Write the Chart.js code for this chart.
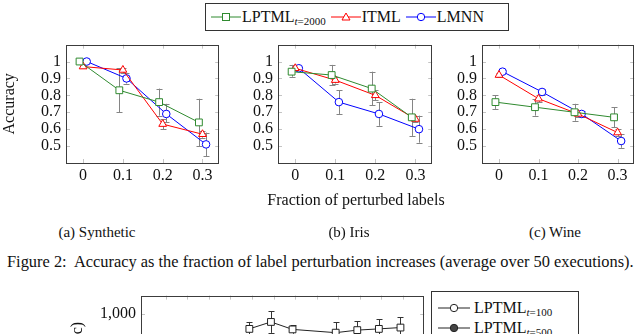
<!DOCTYPE html>
<html>
<head>
<meta charset="utf-8">
<script src="https://cdn.jsdelivr.net/npm/chart.js@4.4.1/dist/chart.umd.min.js"></script>
<style>
  html, body { margin:0; padding:0; background:#fff; width:640px; height:334px; overflow:hidden; }
  body { position:relative; font-family:"Liberation Serif","Times New Roman","DejaVu Serif",serif; color:#111; }
  canvas { position:absolute; }
  .txt { position:absolute; white-space:nowrap; line-height:1; }
  .lg { position:absolute; border:1px solid #333; font-size:16px; background:#fff; }
  .lg .it { display:flex; align-items:center; }
  .lg sub { font-size:11px; vertical-align:-3px; line-height:0; }
</style>
</head>
<body>
<div class="lg" id="legend" style="left:205px;top:3px;width:302px;height:26px;display:flex;align-items:center;">
  <div class="it" style="margin-left:4px"><svg width="32" height="12"><line x1="1" y1="6" x2="31" y2="6" stroke="#2f8a2f"/><rect x="12.5" y="2.5" width="7" height="7" fill="#fff" stroke="#2f8a2f"/></svg><span>LPTML<sub><i>t</i>=2000</sub></span></div>
  <div class="it" style="margin-left:4px"><svg width="32" height="12"><line x1="1" y1="6" x2="31" y2="6" stroke="#f00"/><polygon points="16,2 20,9 12,9" fill="#fff" stroke="#f00"/></svg><span>ITML</span></div>
  <div class="it" style="margin-left:4px"><svg width="32" height="12"><line x1="1" y1="6" x2="31" y2="6" stroke="#00f"/><circle cx="16" cy="6" r="3.7" fill="#fff" stroke="#00f"/></svg><span>LMNN</span></div>
</div>

<canvas id="c1" width="225" height="160" style="left:0;top:30px"></canvas>
<canvas id="c2" width="226" height="160" style="left:212px;top:30px"></canvas>
<canvas id="c3" width="224" height="160" style="left:416px;top:30px"></canvas>
<canvas id="c4" width="370" height="150" style="left:60px;top:281px"></canvas>

<div class="txt" style="left:356px;top:192px;font-size:16px;transform:translateX(-50%)">Fraction of perturbed labels</div>
<div class="txt" style="left:97px;top:225px;font-size:15px;transform:translateX(-50%)">(a) Synthetic</div>
<div class="txt" style="left:349px;top:225px;font-size:15px;transform:translateX(-50%)">(b) Iris</div>
<div class="txt" style="left:555px;top:225px;font-size:15px;transform:translateX(-50%)">(c) Wine</div>
<div class="txt" style="left:7px;top:254px;font-size:16.4px">Figure 2:&nbsp; Accuracy as the fraction of label perturbation increases (average over 50 executions).</div>

<div class="lg" style="left:431px;top:291px;width:146px;height:60px;">
  <div class="it" style="position:absolute;left:4px;top:7px"><svg width="36" height="12"><line x1="2" y1="6" x2="34" y2="6" stroke="#222"/><circle cx="18" cy="6" r="3.7" fill="#fff" stroke="#222"/></svg><span style="margin-left:2px">LPTML<sub><i>t</i>=100</sub></span></div>
  <div class="it" style="position:absolute;left:4px;top:27px"><svg width="36" height="12"><line x1="2" y1="6" x2="34" y2="6" stroke="#222"/><circle cx="18" cy="6" r="3.7" fill="#444" stroke="#222"/></svg><span style="margin-left:2px">LPTML<sub><i>t</i>=500</sub></span></div>
</div>

<script>
// 横軸（ラベル摂動の割合）
var fractions = [0, 0.1, 0.2, 0.3];
var yTicks = [0.5, 0.6, 0.7, 0.8, 0.9, 1];

// Synthetic
var synLptml   = [1.00, 0.83, 0.76, 0.64];
var synLptmlLo = [0.99, 0.70, 0.68, 0.50];
var synLptmlHi = [1.00, 0.96, 0.84, 0.78];
var synItml    = [0.97, 0.95, 0.63, 0.57];
var synItmlLo  = [0.96, 0.93, 0.60, 0.55];
var synItmlHi  = [0.98, 0.96, 0.66, 0.59];
var synLmnn    = [1.00, 0.90, 0.69, 0.51];
var synLmnnLo  = [1.00, 0.87, 0.64, 0.44];
var synLmnnHi  = [1.00, 0.93, 0.75, 0.58];

// Iris
var irisLptml   = [0.94, 0.92, 0.84, 0.67];
var irisLptmlLo = [0.91, 0.86, 0.74, 0.56];
var irisLptmlHi = [0.98, 0.98, 0.94, 0.78];
var irisItml    = [0.96, 0.89, 0.80, 0.66];
var irisItmlLo  = [0.95, 0.87, 0.77, 0.64];
var irisItmlHi  = [0.97, 0.91, 0.83, 0.68];
var irisLmnn    = [0.96, 0.76, 0.69, 0.60];
var irisLmnnLo  = [0.95, 0.69, 0.62, 0.52];
var irisLmnnHi  = [0.97, 0.83, 0.76, 0.68];

// Wine
var wineLptml   = [0.76, 0.73, 0.70, 0.67];
var wineLptmlLo = [0.72, 0.68, 0.65, 0.61];
var wineLptmlHi = [0.80, 0.78, 0.75, 0.73];
var wineItml    = [0.92, 0.78, 0.69, 0.58];
var wineItmlLo  = [0.91, 0.76, 0.67, 0.56];
var wineItmlHi  = [0.93, 0.80, 0.71, 0.60];
var wineLmnn    = [0.94, 0.82, 0.69, 0.53];
var wineLmnnLo  = [0.93, 0.80, 0.67, 0.49];
var wineLmnnHi  = [0.95, 0.84, 0.71, 0.57];

// 下の図（見えている部分のみ）
var nextX     = [1, 2, 3, 4, 5, 6, 7, 8, 9, 10, 11, 12];
var nextYTick = [1000];
var nextPos   = [5, 6, 7, 9, 10, 11, 12];
var nextVal   = [857, 925, 852, 820, 845, 857, 870];
var nextHi    = [925, 1032, 895, 920, 932, 950, 970];
var nextLo    = [790, 818, 809, 720, 758, 764, 770];

var GREEN = '#2f8a2f', RED = '#ff0000', BLUE = '#0000ff';
var FONT = '"Liberation Serif","Times New Roman","DejaVu Serif",serif';

//系列ごとの横ずらし（重なり防止）
function pts(xs, vals, shift) {
	return vals.map(function (v, i) { return {x: xs[i] + shift, y: v}; });
}

function series(xs, vals, lo, hi, color, style, radius, shift) {
	return {
		data: pts(xs, vals, shift),
		errLo: lo, errHi: hi,
		borderColor: color, borderWidth: 1,
		pointStyle: style, pointRadius: radius, pointHoverRadius: radius,
		pointBackgroundColor: '#fff', pointBorderColor: color, pointBorderWidth: 1,
		tension: 0, fill: false
	};
}

//誤差棒（灰色）
var errorBars = {
	id: 'errorBars',
	beforeDatasetsDraw: function (chart) {
		var ctx = chart.ctx, xs = chart.scales.x, ys = chart.scales.y;
		ctx.save();
		ctx.lineWidth = 1;
		chart.data.datasets.forEach(function (ds) {
			ctx.strokeStyle = ds.errColor || '#858585';
			ds.data.forEach(function (p, i) {
				var x = Math.round(xs.getPixelForValue(p.x)) + 0.5;
				var y1 = ys.getPixelForValue(ds.errLo[i]);
				var y2 = ys.getPixelForValue(ds.errHi[i]);
				ctx.beginPath();
				ctx.moveTo(x, y1); ctx.lineTo(x, y2);
				ctx.moveTo(x - 3, Math.round(y1) + 0.5); ctx.lineTo(x + 3, Math.round(y1) + 0.5);
				ctx.moveTo(x - 3, Math.round(y2) + 0.5); ctx.lineTo(x + 3, Math.round(y2) + 0.5);
				ctx.stroke();
			});
		});
		ctx.restore();
	}
};

//枠と内向きの目盛り
var frame = {
	id: 'frame',
	beforeDatasetsDraw: function (chart) {
		var ctx = chart.ctx, a = chart.chartArea, xs = chart.scales.x, ys = chart.scales.y;
		ctx.save();
		ctx.strokeStyle = '#c4c4c4';
		ctx.lineWidth = 1;
		ctx.beginPath();
		xs.ticks.forEach(function (t) {
			var x = Math.round(xs.getPixelForValue(t.value)) + 0.5;
			ctx.moveTo(x, a.top); ctx.lineTo(x, a.top + 4);
			ctx.moveTo(x, a.bottom); ctx.lineTo(x, a.bottom - 4);
		});
		ys.ticks.forEach(function (t) {
			var y = Math.round(ys.getPixelForValue(t.value)) + 0.5;
			ctx.moveTo(a.left, y); ctx.lineTo(a.left + 4, y);
			ctx.moveTo(a.right, y); ctx.lineTo(a.right - 4, y);
		});
		ctx.stroke();
		ctx.restore();
	},
	afterDraw: function (chart) {
		var ctx = chart.ctx, a = chart.chartArea;
		ctx.save();
		ctx.strokeStyle = '#3c3c3c';
		ctx.lineWidth = 1;
		ctx.strokeRect(Math.round(a.left) + 0.5, Math.round(a.top) + 0.5,
			Math.round(a.right - a.left) - 1, Math.round(a.bottom - a.top));
		ctx.restore();
	}
};

function makeChart(id, sets, o) {
	var ctx = document.getElementById(id).getContext('2d');
	return new Chart(ctx, {
		type: 'line',
		data: { datasets: sets },
		plugins: [frame, errorBars],
		options: {
			responsive: false,
			animation: false,
			devicePixelRatio: 1,
			layout: { padding: { top: 10, right: o.padRight, left: 0, bottom: 0 } },
			plugins: { legend: { display: false }, tooltip: { enabled: false } },
			scales: {
				x: {
					type: 'linear', min: o.xMin, max: o.xMax,
					afterBuildTicks: function (s) { s.ticks = o.xTicks.map(function (v) { return {value: v}; }); },
					afterFit: function (s) { s.height = o.xHeight; },
					grid: { display: false, drawTicks: false },
					border: { display: false },
					ticks: {
						padding: 3, color: '#111', maxRotation: 0,
						font: { family: FONT, size: 16 },
						callback: o.xFmt
					}
				},
				y: {
					min: o.yMin, max: o.yMax,
					afterBuildTicks: function (s) { s.ticks = o.yTicks.map(function (v) { return {value: v}; }); },
					afterFit: function (s) { s.width = o.yWidth; },
					grid: { display: false, drawTicks: false },
					border: { display: false },
					title: { display: !!o.title, text: o.title || '', color: '#111', padding: o.titlePad || 0,
						font: { family: FONT, size: 16 } },
					ticks: {
						padding: 5, color: '#111',
						font: { family: FONT, size: 16 },
						callback: o.yFmt
					}
				}
			}
		}
	});
}

function fmtFrac(v) { return v === 0 ? '0' : v.toFixed(1); }
function fmtAcc(v) { return v === 1 ? '1' : v.toFixed(1); }
function panelOpts(title, padRight) {
	return { padRight: padRight, xMin: -0.043, xMax: 0.342, xTicks: fractions, xHeight: 27, xFmt: fmtFrac,
		yMin: 0.4, yMax: 1.1, yTicks: yTicks, yWidth: 66, yFmt: fmtAcc, title: title, titlePad: 0 };
}

var S = 0.009;
makeChart('c1', [
	series(fractions, synLptml, synLptmlLo, synLptmlHi, GREEN, 'rect', 4.8, -S),
	series(fractions, synItml, synItmlLo, synItmlHi, RED, 'triangle', 4.5, 0),
	series(fractions, synLmnn, synLmnnLo, synLmnnHi, BLUE, 'circle', 3.8, S)
], panelOpts('Accuracy', 4));
makeChart('c2', [
	series(fractions, irisLptml, irisLptmlLo, irisLptmlHi, GREEN, 'rect', 4.8, -S),
	series(fractions, irisItml, irisItmlLo, irisItmlHi, RED, 'triangle', 4.5, 0),
	series(fractions, irisLmnn, irisLmnnLo, irisLmnnHi, BLUE, 'circle', 3.8, S)
], panelOpts(null, 4));
makeChart('c3', [
	series(fractions, wineLptml, wineLptmlLo, wineLptmlHi, GREEN, 'rect', 4.8, -S),
	series(fractions, wineItml, wineItmlLo, wineItmlHi, RED, 'triangle', 4.5, 0),
	series(fractions, wineLmnn, wineLmnnLo, wineLmnnHi, BLUE, 'circle', 3.8, S)
], panelOpts(null, 2));

//下の図（画像の下端で切れている）
var sq = series(nextPos, nextVal, nextLo, nextHi, '#222', 'rect', 4.8, -0.12);
sq.errColor = '#333';
makeChart('c4', [sq], {
	padRight: 5, xMin: -0.14, xMax: 12.98, xTicks: nextX, xHeight: 10,
	xFmt: function () { return ''; },
	yMin: 0, yMax: 1183, yTicks: nextYTick, yWidth: 81,
	yFmt: function (v) { return v.toLocaleString('en-US'); },
	title: 'Time (sec)', titlePad: 8
});
</script>
</body>
</html>
